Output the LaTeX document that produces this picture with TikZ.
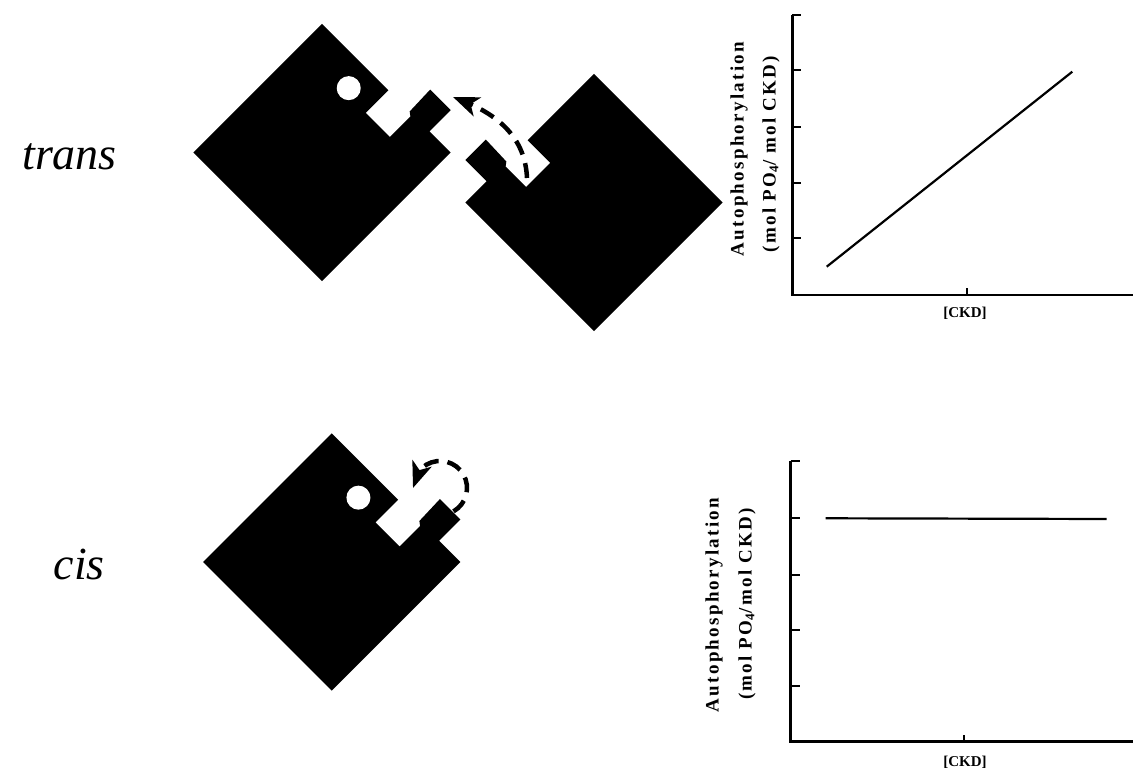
\documentclass[tikz,border=0pt]{standalone}
\usepackage{fontspec}
\setmainfont{Liberation Serif}
\newfontfamily\axisfont[LetterSpace=12]{Liberation Serif}
\usetikzlibrary{arrows.meta,bending,calc}

\tikzset{
  % kinase body: square with a notch and a knob on one edge
  kinase/.pic={
    \fill (-91,-91) -- (91,-91) -- (91,-61) -- (121,-61) -- (121,-32)
      -- (91,-33) -- (88,-37) -- (59,-37) -- (59,-3) -- (91,-3)
      -- (91,91) -- (-91,91) -- cycle;
  },
  % active site
  site/.pic={\fill[white] (64.4,26.6) circle[radius=12];},
}

\begin{document}
\begin{tikzpicture}[x=1pt,y=1pt,
  dasharrow/.style={line width=4.5pt, dash pattern=on 15pt off 9pt,
    -{Stealth[length=26pt,width=20pt,inset=7pt]}},
  axisline/.style={line width=2.8pt},
  tickline/.style={line width=2pt},
  dataline/.style={line width=2.2pt},
  ylab/.style={font=\axisfont\bfseries\fontsize{19}{22}\selectfont, rotate=90, inner sep=0pt},
  xlab/.style={font=\bfseries\fontsize{15}{17}\selectfont, inner sep=0pt},
  rowlab/.style={font=\itshape\fontsize{46}{50}\selectfont, inner sep=0pt, anchor=base east},
]
\useasboundingbox (0,0) rectangle (1134,770);

% ---------- trans ----------
\node[rowlab] (trans) at (117,600) {trans};
\pic[rotate=45] at (322,617.5) {kinase};
\pic[rotate=45] at (322,617.5) {site};
\pic[xscale=-1,rotate=45] at (594,567.5) {kinase};
\coordinate (tstart) at (527,592);
\coordinate (tend) at (453,673);
\draw[dasharrow] (tstart) .. controls (525,635) and (495,658) .. (tend);

% ---------- cis ----------
\node[rowlab] (cis) at (105,190) {cis};
\pic[rotate=45] at (331.7,208) {kinase};
\pic[rotate=45] at (331.7,208) {site};
\coordinate (cstart) at ($(440,282)+(-60:27)$);
\draw[dasharrow] (cstart) arc[start angle=-60, end angle=180, radius=27];

% ---------- upper plot ----------
\coordinate (o1) at (792.3,475);
\coordinate (y1) at (792.3,755);
\coordinate (x1) at (1133,475);
\draw[axisline] (y1) -- (o1) -- (x1);
\foreach \yy in {531.7,587.3,643.3,700,755}
  \draw[tickline] (792.3,\yy) -- ++(9,0);
\draw[tickline] (967.3,475) -- ++(0,7);
\coordinate (a1) at (826.7,503.3);
\coordinate (b1) at (1072.3,698.3);
\draw[dataline] (a1) -- (b1);
\node[xlab] (ckd1) at (965,457) {[CKD]};
\node[ylab] (auto1) at (739,621) {Autophosphorylation};
\node[ylab] (mol1) at (771,616) {(mol PO\textsubscript{4}/ mol CKD)};

% ---------- lower plot ----------
\coordinate (o2) at (790.7,28.3);
\coordinate (y2) at (790.7,309.3);
\coordinate (x2) at (1133,28.3);
\draw[axisline] (y2) -- (o2) -- (x2);
\foreach \yy in {84.3,140,195,252.3,309.3}
  \draw[tickline] (790.7,\yy) -- ++(9,0);
\draw[tickline] (964,28.3) -- ++(0,7);
\coordinate (a2) at (825.7,251.7);
\coordinate (b2) at (1106.7,251);
\draw[dataline] (a2) -- (b2);
\node[xlab] (ckd2) at (965,8) {[CKD]};
\node[ylab] (auto2) at (714,165) {Autophosphorylation};
\node[ylab] (mol2) at (747,166) {(mol PO\textsubscript{4}/mol CKD)};
\end{tikzpicture}
\end{document}
